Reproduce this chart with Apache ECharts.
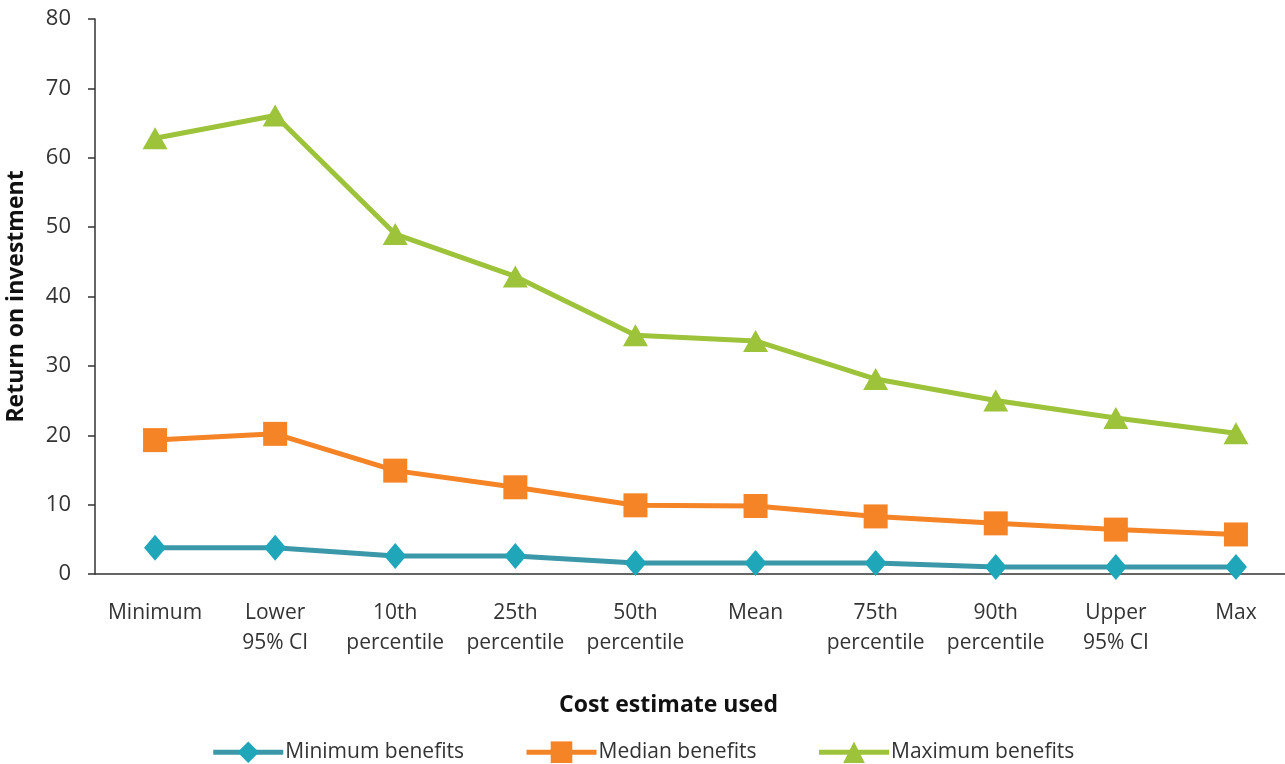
<!DOCTYPE html>
<html>
<head>
<meta charset="utf-8">
<script src="https://cdn.jsdelivr.net/npm/echarts@6/dist/echarts.min.js"></script>
<style>
  html, body { margin: 0; padding: 0; background: #fff; }
  #chart { width: 1285px; height: 764px; }
</style>
</head>
<body>
<div id="chart"></div>
<script>
// Cost estimates on the x axis
const categories = [
  'Minimum', 'Lower\n95% CI', '10th\npercentile', '25th\npercentile', '50th\npercentile',
  'Mean', '75th\npercentile', '90th\npercentile', 'Upper\n95% CI', 'Max'
];

// Return on investment for each benefits scenario
const minimumBenefits = [3.8, 3.8, 2.6, 2.6, 1.6, 1.6, 1.6, 1.0, 1.0, 1.0];
const medianBenefits  = [19.3, 20.2, 14.9, 12.5, 9.9, 9.8, 8.3, 7.3, 6.4, 5.7];
const maximumBenefits = [62.8, 66.1, 49.0, 42.9, 34.4, 33.6, 28.1, 25.0, 22.5, 20.3];

const yTicks = { min: 0, max: 80, interval: 10 };

const font = '"Open Sans", "Liberation Sans", Arial, sans-serif';
const textColor = '#333';

const chart = echarts.init(document.getElementById('chart'), null, { renderer: 'canvas' });

function lineSeries(name, data, symbol, size, markerColor, lineColor) {
  return {
    name, type: 'line', data,
    symbol, symbolSize: size,
    itemStyle: { color: markerColor },
    lineStyle: { color: lineColor, width: 5 },
    emphasis: { disabled: true },
    z: 2
  };
}

chart.setOption({
  animation: false,
  backgroundColor: '#fff',
  textStyle: { fontFamily: font },
  // the plot area runs past the right edge, so the last category sits near the border
  grid: { left: 95, top: 19, width: 1201, height: 555, outerBoundsMode: 'none', containLabel: false },
  legend: {
    bottom: -4,
    left: 'center',
    itemWidth: 70,
    itemHeight: 27,
    itemGap: 60,
    lineStyle: { width: 5 },
    textStyle: { fontFamily: font, fontSize: 21, color: textColor, padding: [0, 0, 0, -3] },
    data: ['Minimum benefits', 'Median benefits', 'Maximum benefits']
  },
  xAxis: {
    type: 'category',
    data: categories,
    boundaryGap: true,
    name: 'Cost estimate used',
    nameLocation: 'middle',
    nameGap: 120,
    nameTextStyle: { fontFamily: font, fontSize: 23, fontWeight: 'bold', color: '#111', padding: [0, 0, 0, -54] },
    axisLine: { lineStyle: { color: '#333', width: 1.5 } },
    axisTick: { show: false },
    axisLabel: { fontFamily: font, fontSize: 21, color: textColor, lineHeight: 30, margin: 24, interval: 0 },
    splitLine: { show: false }
  },
  yAxis: {
    type: 'value',
    min: yTicks.min, max: yTicks.max, interval: yTicks.interval,
    name: 'Return on investment',
    nameLocation: 'middle',
    nameGap: 67,
    nameRotate: 90,
    nameTextStyle: { fontFamily: font, fontSize: 23, fontWeight: 'bold', color: '#111' },
    axisLine: { show: true, lineStyle: { color: '#333', width: 1.5 } },
    axisTick: { show: true, length: 7, lineStyle: { color: '#333', width: 1.5 } },
    axisLabel: { fontFamily: font, fontSize: 22, color: textColor, margin: 24 },
    splitLine: { show: false }
  },
  series: [
    lineSeries('Minimum benefits', minimumBenefits, 'diamond', [22, 26], '#1fa6b9', '#3b98a9'),
    lineSeries('Median benefits', medianBenefits, 'rect', 24, '#f58426', '#f58426'),
    lineSeries('Maximum benefits', maximumBenefits, 'triangle', [25, 22], '#9dc33b', '#9dc33b')
  ]
});
</script>
</body>
</html>
